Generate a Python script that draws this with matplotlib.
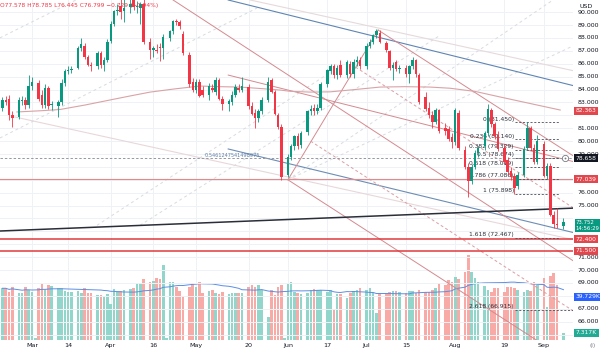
import numpy as np
import pandas as pd
import matplotlib
matplotlib.use("Agg")
import matplotlib.pyplot as plt

plt.rcParams['font.family'] = ['Liberation Sans Narrow', 'DejaVu Sans']

# ---- session calendar: weekday sessions plus short Sunday sessions ----
trade_days = pd.bdate_range('2024-02-20', '2024-09-09')
trade_days = trade_days[trade_days != pd.Timestamp('2024-03-29')]
sunday_sessions = pd.date_range('2024-02-25', '2024-09-08', freq='W-SUN')
sunday_sessions = sunday_sessions[sunday_sessions != pd.Timestamp('2024-03-31')]

# ---- daily candles ----
opens = [82.6, 83.2, 83.3, 82.0, 81.9, 83.1, 83.2, 82.8, 84.3, 84.5, 83.6, 82.8, 84.1, 82.8, 82.7, 83.0,
         84.5, 85.4, 85.5, 85.7, 87.2, 87.4, 86.5, 85.9, 85.8, 86.8, 85.9, 86.3, 87.8, 89.1, 90.1, 90.5,
         90.1, 90.4, 91.0, 90.4, 90.3, 90.6, 87.7, 87.1, 87.1, 87.3, 87.2, 88.0, 88.5, 89.3, 89.2, 88.3,
         86.7, 84.6, 84.0, 84.6, 84.0, 83.6, 84.1, 83.8, 84.7, 83.3, 82.9, 83.0, 83.6, 84.1, 84.0, 84.2,
         82.7, 82.2, 81.8, 82.3, 83.2, 84.7, 83.8, 82.0, 81.1, 77.4, 78.8, 79.6, 80.4, 79.7, 80.7, 82.3,
         82.6, 82.3, 82.6, 84.4, 85.4, 85.8, 85.1, 85.9, 85.1, 86.0, 85.2, 86.1, 86.3, 85.8, 87.4, 87.7,
         88.2, 88.4, 87.6, 87.0, 85.7, 86.1, 85.6, 85.7, 85.2, 85.8, 86.3, 85.1, 83.4, 82.6, 82.0, 81.5,
         82.4, 81.0, 80.9, 80.3, 79.9, 82.2, 79.3, 78.0, 76.9, 78.0, 79.1, 79.6, 80.6, 82.4, 81.3, 80.5,
         79.5, 78.5, 77.7, 77.3, 76.5, 77.4, 79.5, 81.0, 79.5, 78.4, 79.8, 77.3, 78.1, 74.3, 73.6, 73.4]
highs = [83.4, 83.5, 83.6, 82.3, 83.4, 83.5, 83.4, 85.1, 85.0, 84.7, 84.0, 84.4, 84.3, 83.1, 83.2, 84.8,
         85.6, 85.8, 85.8, 87.4, 88.0, 87.6, 86.7, 86.1, 87.0, 87.0, 86.5, 87.9, 89.3, 90.2, 90.6, 91.2,
         91.0, 91.3, 91.5, 90.9, 90.8, 91.0, 88.0, 87.4, 87.5, 87.6, 88.3, 88.6, 89.4, 89.5, 89.4, 88.5,
         86.9, 84.9, 84.8, 84.8, 84.3, 84.5, 84.4, 85.0, 84.9, 83.5, 83.3, 83.9, 84.4, 84.4, 85.0, 84.4,
         83.0, 82.5, 82.5, 83.4, 85.0, 84.9, 84.0, 82.2, 81.3, 79.0, 79.8, 80.5, 80.6, 80.8, 82.4, 82.8,
         82.9, 82.9, 84.6, 85.6, 86.0, 86.0, 85.9, 86.3, 86.3, 86.2, 86.4, 86.6, 86.5, 87.6, 87.9, 88.3,
         88.7, 88.6, 87.8, 87.1, 86.1, 86.3, 85.9, 85.9, 85.9, 86.5, 86.4, 85.3, 83.8, 83.0, 82.3, 82.6,
         82.5, 81.4, 81.2, 80.6, 82.6, 82.4, 79.6, 78.3, 78.2, 79.3, 79.6, 80.8, 82.9, 82.6, 81.5, 80.8,
         79.8, 78.8, 78.0, 77.5, 77.6, 79.6, 81.5, 81.2, 79.8, 80.5, 80.0, 78.3, 78.3, 74.6, 74.8, 74.0]
lows = [82.3, 82.8, 81.6, 81.1, 81.7, 82.8, 82.5, 82.6, 84.0, 83.1, 82.6, 82.6, 82.5, 82.4, 81.9, 82.8,
        84.3, 85.2, 85.3, 85.6, 87.0, 86.4, 85.8, 85.4, 85.6, 85.7, 85.4, 86.1, 87.6, 88.9, 89.8, 89.5,
        89.2, 89.9, 90.2, 89.9, 89.1, 87.5, 86.4, 86.5, 86.8, 86.2, 86.4, 87.8, 88.3, 89.0, 88.7, 86.7,
        84.2, 83.8, 83.7, 83.4, 83.4, 83.2, 83.8, 83.6, 83.2, 82.4, 82.3, 82.8, 83.4, 83.8, 83.8, 82.5,
        82.0, 81.0, 81.5, 82.1, 83.0, 83.7, 82.0, 80.9, 77.0, 77.2, 78.5, 79.3, 79.4, 79.5, 80.5, 82.0,
        82.0, 82.1, 82.4, 84.2, 85.2, 84.9, 84.8, 85.0, 84.9, 85.0, 84.9, 85.8, 85.6, 85.6, 87.2, 87.5,
        88.0, 87.6, 86.9, 85.5, 84.7, 85.4, 85.3, 85.0, 84.5, 85.6, 85.0, 82.9, 82.3, 81.8, 81.0, 81.3,
        80.6, 80.5, 80.0, 79.5, 79.7, 79.3, 77.8, 75.7, 76.7, 77.8, 78.8, 79.3, 80.4, 81.1, 80.2, 79.2,
        78.2, 77.4, 77.0, 75.9, 76.3, 77.2, 79.3, 79.3, 78.2, 78.2, 77.2, 77.1, 74.2, 73.3, 73.3, 73.2]
closes = [83.2, 83.0, 82.0, 81.8, 83.2, 83.2, 82.8, 84.3, 84.6, 83.3, 82.8, 84.1, 82.7, 82.9, 83.0, 84.5,
          85.4, 85.5, 85.6, 87.2, 87.5, 86.5, 85.9, 85.8, 86.8, 85.9, 86.3, 87.7, 89.1, 90.1, 90.2, 90.0,
          90.3, 90.6, 90.4, 90.5, 90.6, 87.7, 87.1, 87.2, 87.0, 87.2, 88.1, 88.5, 89.3, 89.2, 88.9, 86.8,
          84.4, 84.0, 84.6, 83.5, 83.6, 84.3, 84.0, 84.7, 83.3, 82.9, 83.1, 83.6, 84.2, 84.0, 84.3, 82.7,
          82.1, 81.8, 82.3, 83.2, 84.6, 83.8, 82.1, 81.1, 77.2, 78.8, 79.6, 80.4, 79.6, 80.6, 82.3, 82.5,
          82.3, 82.6, 84.4, 85.5, 85.8, 85.1, 85.7, 85.1, 86.1, 85.2, 86.1, 86.3, 85.8, 87.4, 87.7, 88.2,
          88.5, 87.7, 87.1, 85.7, 85.9, 85.6, 85.6, 85.2, 85.8, 86.3, 85.2, 83.0, 82.5, 82.0, 81.5, 82.4,
          80.8, 80.8, 80.2, 79.9, 82.4, 79.5, 78.0, 76.9, 78.0, 79.1, 79.5, 80.6, 82.5, 81.3, 80.4, 79.4,
          78.4, 77.6, 77.2, 76.4, 77.4, 79.4, 81.0, 79.5, 78.4, 80.0, 77.3, 78.1, 74.3, 73.6, 73.5, 73.75]

# ---- volume in thousands (weekday sessions, then Sunday sessions) ----
volume_k = [47.5, 47.5, 44.5, 48.4,
            43.0, 43.6, 48.4, 46.0, 44.5, 47.5, 51.0, 46.0, 50.5, 49.5, 47.5, 47.5, 45.4, 44.2, 44.2,
            45.0, 43.6, 47.5, 43.6, 43.6, 41.4, 41.0, 40.5, 42.3,
            33.3, 46.6, 45.0, 45.0, 46.0, 47.2, 47.5, 52.0, 52.6, 55.6, 52.9, 54.0, 56.5, 55.6, 68.5,
            52.9, 53.5, 49.0, 45.4, 40.5, 48.4, 52.6, 48.4, 53.5, 43.6, 45.0, 46.0, 43.6, 42.3, 44.0,
            42.3, 43.6, 43.0, 43.0, 43.0, 48.4, 50.5, 49.0, 50.5, 46.0, 22.0, 46.0, 41.4, 48.4, 50.5,
            51.4, 53.4, 44.4, 43.5, 42.3, 43.5, 45.9, 46.5, 45.9, 45.9, 44.4, 45.9, 28.5, 42.0, 42.3,
            38.4, 43.5, 45.3, 45.9, 47.4, 45.9, 47.4, 43.5, 24.9, 43.5, 43.5, 44.1, 45.3, 45.3, 44.4,
            42.9, 45.0, 45.3, 43.5, 45.9, 44.0, 44.4, 45.9, 47.4, 52.0, 50.5, 55.0, 53.5, 58.0, 55.6,
            61.9, 77.5, 62.5, 56.5, 53.5, 49.5, 45.9, 44.4, 47.4, 47.4, 44.4, 48.9, 48.9, 47.4, 45.9,
            44.4, 45.9, 45.3, 53.5, 50.5, 56.5, 30.3, 58.6, 61.0, 50.5, 7.5]
sunday_volume_k = [1.2, 2.5, 1.2, 1.2, 1.2, 1.2, 1.2, 2.5, 1.2, 1.2, 1.2, 1.2, 1.2, 2.5,
                   1.2, 1.2, 1.2, 1.2, 1.2, 1.2, 1.2, 1.2, 1.2, 1.2, 1.2, 1.2, 1.2, 1.2]

# ---- long moving average on price: (slot, value) ----
ma_slots = [-4.6, 2.4, 8.5, 16.2, 23.8, 29.9, 36, 43.6, 51.2, 57.3, 63.4, 69.5, 75.6, 78.7, 84.8, 90.9,
            98.5, 106.1, 113.7, 121.3, 127.4, 135.1, 142.7, 151.2, 161]
ma_values = [82.26, 82.35, 82.45, 82.80, 83.19, 83.50, 83.80, 84.05, 84.27, 84.22, 84.19, 84.08, 83.96,
             83.86, 83.80, 83.82, 84.00, 84.19, 84.22, 84.19, 84.10, 83.85, 83.42, 82.95, 82.41]

# ---- horizontal levels and scale tags ----
support_levels = [72.400, 71.500]
june_low = 77.039
pivot_level = 78.658
last_ma = 82.363
last_price = 73.752
countdown = "14:56:29"
vol_ma_value, vol_ma_label = 39.729, "39.729K"
last_vol_value, last_vol_label = 7.317, "7.317K"

# ---- fibonacci retracement ----
fib_ratios = [0, 0.236, 0.382, 0.5, 0.618, 0.786, 1, 1.618, 2.618]
fib_high, fib_low = 81.450, 75.898
fib_span = (147.3, 161.0)

# ---- drawn trend lines: (slot, price) pairs ----
black_line = [(-9.8, 73.03), (165.5, 74.81)]
blue_upper = [(59.8, 90.94), (165.5, 84.27)]
pale_upper = [(66.5, 90.94), (165.5, 85.43)]
blue_lower = [(59.8, 79.39), (165.5, 72.88)]
pale_lower = [(-5.2, 81.87), (165.5, 72.33)]
fork_median = [(43.0, 90.94), (165.5, 70.63)]
fork_upper = [(105.5, 88.61), (165.5, 78.77)]
fork_lower = [(78.0, 77.00), (165.5, 62.65)]
fork_handle = [(78.0, 77.00), (105.5, 88.61)]
fork_inner = [[(98.6, 85.74), (165.5, 74.74)], [(84.9, 80.00), (165.5, 66.75)]]
pink_slope = [(59.8, 85.12), (165.5, 78.38)]
gray_dashed = [[(-9.8, 80.24), (68.6, 90.32)], [(-9.8, 88.0), (13.4, 90.94)],
               [(19.8, 73.47), (90.9, 85.33)], [(32.9, 73.47), (124.4, 88.2)],
               [(78.0, 77.00), (158.8, 90.94)], [(78.0, 77.00), (165.5, 87.45)]]
ratio_text = "0.5461247541498975"
ratio_anchor = (52.7, 78.70)

tick_dates = ['2024-03-01', '2024-03-14', '2024-04-01', '2024-04-16', '2024-05-01', '2024-05-20',
              '2024-06-03', '2024-06-17', '2024-07-01', '2024-07-15', '2024-08-01', '2024-08-19',
              '2024-09-02']
tick_labels = ["Mar", "14", "Apr", "16", "May", "20", "Jun", "17", "Jul", "15", "Aug", "19", "Sep"]
header = "O77.578 H78.785 L76.445 C76.799 \u22120.729 (\u22120.94%)"

# slot positions: one slot per session, counted from 1 March
sessions = sorted(list(trade_days) + list(sunday_sessions))
slot_of = {d: n for n, d in enumerate(sessions)}
origin = slot_of[pd.Timestamp('2024-03-01')]
x_day = np.array([slot_of[d] - origin for d in trade_days], dtype=float)
x_sun = np.array([slot_of[d] - origin for d in sunday_sessions], dtype=float)
x_ticks = [slot_of[pd.Timestamp(d)] - origin for d in tick_dates]

UP, DOWN = '#089981', '#f23645'
W, H = 600, 350
fig = plt.figure(figsize=(6, 3.5), dpi=100)
pos = [0, 10 / H, 573 / W, 340 / H]
axv = fig.add_axes(pos)
ax = fig.add_axes(pos)
ax.set_zorder(2)
ax.patch.set_alpha(0)

XMIN, XMAX = -9.76, 164.9
for a in (ax, axv):
    a.set_xlim(XMIN, XMAX)
    for s in a.spines.values():
        s.set_visible(False)
    a.set_yticks([])
ax.set_ylim(64.58, 90.94)
axv.set_ylim(0.9, 307.2)
axv.set_xticks([])

# grid
for t in x_ticks:
    axv.axvline(t, color='#eef1f6', lw=0.7, zorder=0)
for p in range(65, 91):
    ax.axhline(p, color='#eef1f6', lw=0.7, zorder=0)

# volume
o = np.array(opens); c = np.array(closes); h = np.array(highs); l = np.array(lows)
vol = np.array(volume_k)
up = c >= o
axv.bar(x_day, vol, width=0.78, color=np.where(up, '#92d5ca', '#f7aaa6'), zorder=1)
axv.bar(x_sun, sunday_volume_k, width=0.78, color='#92d5ca', zorder=1)
vol_ma = pd.Series(vol).rolling(20, min_periods=1).mean()
axv.plot(x_day, vol_ma, color='#5b8ee6', lw=0.7, zorder=2)


def seg(pts, **kw):
    (x0, y0), (x1, y1) = pts
    ax.plot([x0, x1], [y0, y1], **kw)


# trend lines
seg(pale_upper, color='#e6d9db', lw=0.8, zorder=1)
seg(pale_lower, color='#e8d7da', lw=0.8, zorder=1)
for g in gray_dashed:
    seg(g, color='#d8dbe0', lw=0.7, ls=(0, (3, 3)), zorder=1)
seg(blue_upper, color='#5f85b3', lw=0.8, zorder=2)
seg(blue_lower, color='#6d8db5', lw=0.8, zorder=2)
for ln in (fork_median, fork_upper, fork_lower, fork_handle, pink_slope):
    seg(ln, color='#d48a8f', lw=0.7, zorder=2)
for ln in fork_inner:
    seg(ln, color='#dc9ea2', lw=0.7, ls=(0, (3, 2.5)), zorder=2)
ax.plot(ma_slots, ma_values, color='#d9a3a6', lw=0.8, zorder=2)
seg(black_line, color='#2a2e39', lw=1.1, zorder=3)

# horizontal levels
for lv in support_levels:
    ax.axhline(lv, color='#e0393e', lw=1.1, zorder=3)
ax.axhline(june_low, color='#e08a8d', lw=0.8, zorder=2)
ax.axhline(pivot_level, color='#9598a1', lw=0.7, ls=(0, (2.5, 2)), zorder=2)
ax.text(ratio_anchor[0], ratio_anchor[1], ratio_text, fontsize=3.6, color='#5f7fa8', ha='left',
        va='bottom', zorder=4)

# fibonacci levels
for r in fib_ratios:
    lvl = fib_high - r * (fib_high - fib_low)
    x1 = fib_span[1] if r < 2 else XMAX
    ax.plot([fib_span[0], x1], [lvl, lvl], color='#4a4e59', lw=0.6, ls=(0, (2.5, 2)), zorder=3)
    ax.text(fib_span[0] - 0.4, lvl + 0.06, f"{r:g} ({lvl:.3f})", fontsize=4.3, color='#2a2e39',
            ha='right', va='bottom', zorder=4)

# candles
colors = np.where(up, UP, DOWN)
ax.vlines(x_day, l, h, color=colors, lw=0.6, zorder=5)
ax.bar(x_day, np.maximum(np.abs(c - o), 0.06), bottom=np.minimum(o, c), width=0.76, color=colors, zorder=6)

# time axis
ax.set_xticks(x_ticks)
ax.set_xticklabels(tick_labels, fontsize=4.6, color='#131722')
ax.tick_params(axis='x', length=0, pad=2)

# price scale
ytr = ax.get_yaxis_transform()
hidden = {82, 78, 77, 74, 73, 72, 68, 65}
for p in range(66, 91):
    if p not in hidden:
        ax.text(1.008, p, f"{p:.3f}", transform=ytr, fontsize=4.5, color='#131722', ha='left',
                va='center', clip_on=False)


def tag(axis, val, text, fc, size=4.3):
    axis.text(1.005, val, text, transform=axis.get_yaxis_transform(), fontsize=size, color='white',
              ha='left', va='center', clip_on=False, zorder=10, linespacing=1.25,
              bbox=dict(boxstyle='square,pad=0.25', fc=fc, ec='none'))


tag(ax, last_ma, f"{last_ma:.3f}", '#e2474d')
tag(ax, pivot_level, f"{pivot_level:.3f}", '#131722')
tag(ax, june_low, f"{june_low:.3f}", '#e2474d')
tag(ax, last_price - 0.3, f"{last_price:.3f}\n{countdown}", UP, size=3.9)
for lv in support_levels:
    tag(ax, lv, f"{lv:.3f}", '#e2474d')
tag(axv, vol_ma_value, vol_ma_label, '#2962ff')
tag(axv, last_vol_value, last_vol_label, '#22ab94')
ax.plot([XMAX - 2.4], [pivot_level], marker='o', ms=4.5, mfc='white', mec='#787b86', mew=0.6,
        clip_on=False, zorder=11)
ax.plot([XMAX - 2.4], [pivot_level], marker='o', ms=1.3, mfc='#787b86', mec='none', clip_on=False, zorder=12)

fig.text(580 / W, 1 - 6 / H, "USD", fontsize=4.5, color='#131722', va='center')
fig.text(589 / W, 1 - 345 / H, "(i)", fontsize=4.2, color='#787b86', va='center')
fig.text(0.5 / W, 1 - 5 / H, header, fontsize=4.2, color='#f23645', va='center')

fig.savefig("out.png", dpi=100, facecolor='white')
